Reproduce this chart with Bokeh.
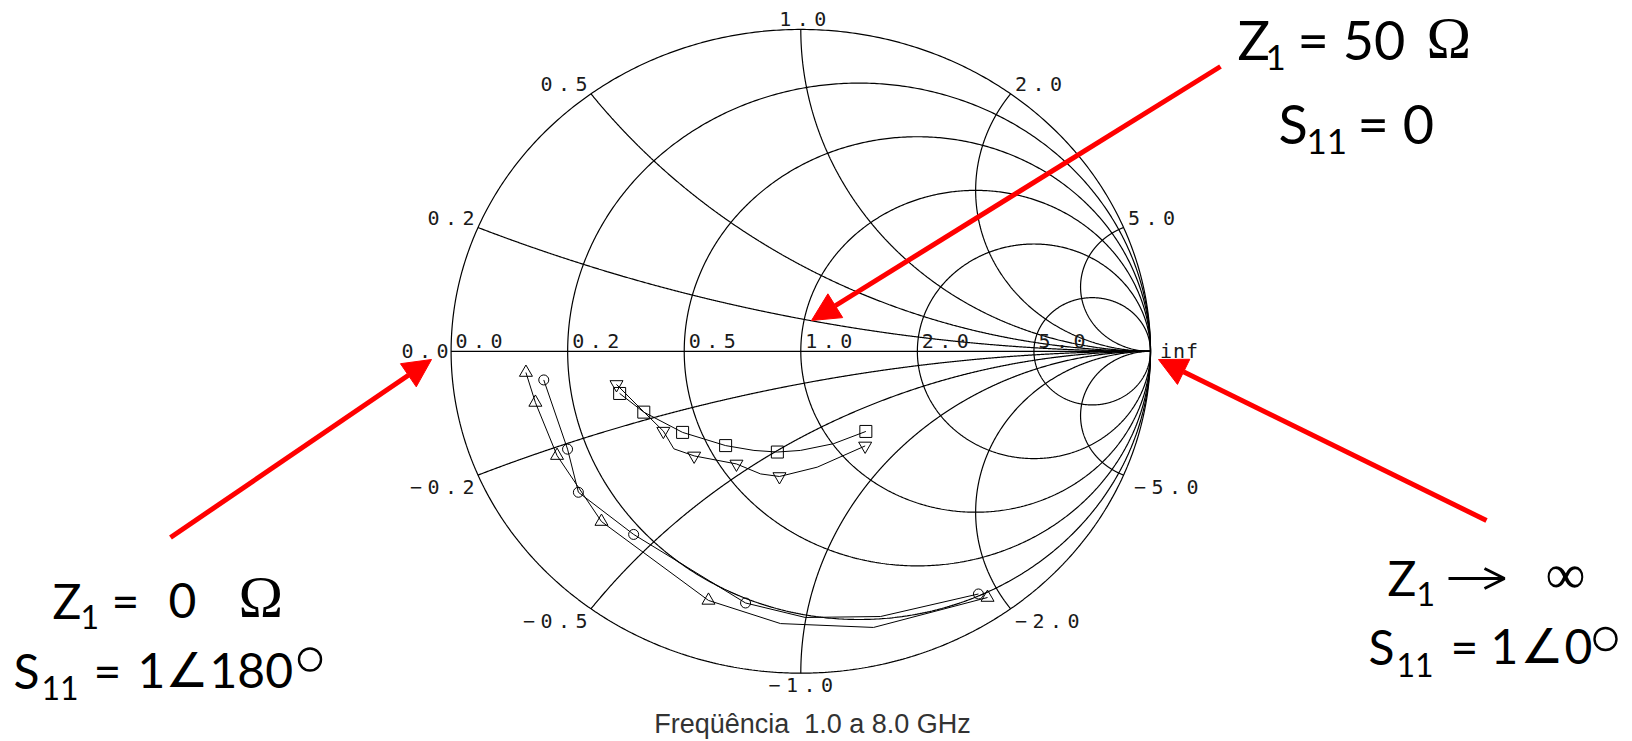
import numpy as np
from bokeh.plotting import figure
from bokeh.models import Range1d, Arrow, NormalHead, OpenHead
from bokeh.core.properties import value
from bokeh.embed import file_html
from bokeh.resources import INLINE

# ---------------- data ----------------
r_circles = [0.2, 0.5, 1.0, 2.0, 5.0]
x_arcs = [0.2, 0.5, 1.0, 2.0, 5.0, -0.2, -0.5, -1.0, -2.0, -5.0]
r_axis_labels = ["0.0", "0.2", "0.5", "1.0", "2.0", "5.0"]
r_axis_values = [0.0, 0.2, 0.5, 1.0, 2.0, 5.0]
x_labels = ["0.2", "0.5", "1.0", "2.0", "5.0", "-0.2", "-0.5", "-1.0", "-2.0", "-5.0"]
x_label_values = [0.2, 0.5, 1.0, 2.0, 5.0, -0.2, -0.5, -1.0, -2.0, -5.0]
title_text = "Freqüência \u00a01.0 a 8.0 GHz"

# series (reflection coefficient, real / imag) -- markers
tri_up_re = [-0.786, -0.759, -0.697, -0.570, -0.264, 0.534]
tri_up_im = [-0.066, -0.159, -0.324, -0.529, -0.774, -0.765]
circ_re = [-0.735, -0.667, -0.636, -0.478, -0.158, 0.508]
circ_im = [-0.089, -0.304, -0.438, -0.569, -0.782, -0.754]
sq_re = [-0.518, -0.449, -0.338, -0.215, -0.067, 0.186]
sq_im = [-0.131, -0.189, -0.252, -0.293, -0.313, -0.249]
tri_dn_re = [-0.527, -0.393, -0.305, -0.184, -0.061, 0.184]
tri_dn_im = [-0.103, -0.248, -0.325, -0.350, -0.389, -0.294]

# traces (all points of the curves)
tri_up_line_re = [-0.786, -0.759, -0.697, -0.570, -0.264, -0.058, 0.208, 0.534]
tri_up_line_im = [-0.066, -0.159, -0.324, -0.529, -0.774, -0.846, -0.858, -0.765]
circ_line_re = [-0.735, -0.667, -0.636, -0.478, -0.158, 0.013, 0.228, 0.508]
circ_line_im = [-0.089, -0.304, -0.438, -0.569, -0.782, -0.827, -0.824, -0.754]
sq_line_re = [-0.518, -0.449, -0.338, -0.215, -0.134, -0.067, -0.001, 0.094, 0.186]
sq_line_im = [-0.131, -0.189, -0.252, -0.293, -0.308, -0.313, -0.308, -0.287, -0.249]
tri_dn_line_re = [-0.527, -0.450, -0.393, -0.363, -0.305, -0.184, -0.115, -0.061, 0.047, 0.184]
tri_dn_line_im = [-0.103, -0.187, -0.248, -0.303, -0.325, -0.350, -0.381, -0.389, -0.360, -0.294]

# ---------------- geometry ----------------
W, H = 1632, 741
CX, CY, RX, RY = 800.3, 350.8, 349.7, 321.85  # picture pixels of chart centre / radii


def gx(px):
    return (px - CX) / RX


def gy(py):
    return (CY - py) / RY


def pxx(g):
    return CX + g * RX


def pxy(g):
    return CY - g * RY


def mid(baseline, size):
    # text is placed by the middle of its em box, ~0.3 em above the baseline
    return gy(baseline - 0.3 * size)


p = figure(width=W, height=H, output_backend="svg", toolbar_location=None,
           x_axis_type=None, y_axis_type=None, min_border=0,
           x_range=Range1d(gx(0), gx(W)), y_range=Range1d(gy(H), gy(0)))
p.outline_line_color = None
p.background_fill_color = "white"
p.border_fill_color = "white"

GRID = "black"

# outer circle + resistance circles
xs, ys = [], []
th = np.linspace(0, 2 * np.pi, 721)
for r in [0.0] + r_circles:
    c, rad = r / (1 + r), 1 / (1 + r)
    xs.append(list(c + rad * np.cos(th)))
    ys.append(list(rad * np.sin(th)))
# reactance arcs
t = np.linspace(0, np.pi / 2, 800)[:-1]
for xv in x_arcs:
    z = np.tan(t) + 1j * xv
    g = (z - 1) / (z + 1)
    xs.append(list(g.real) + [1.0])
    ys.append(list(g.imag) + [0.0])
p.multi_line(xs, ys, line_color=GRID, line_width=1.2)
p.line([-1, 1], [0, 0], line_color=GRID, line_width=1.2)

# ---------------- grid labels (wide, letter-spaced) ----------------
PITCH, GW, LFS = 17.5, 15.0, 20
lab_x, lab_y, lab_t = [], [], []


def spaced(txt, px, base, align="left", pitch=PITCH):
    txt = txt.replace("-", "\u2212")
    n = len(txt)
    width = GW + (n - 1) * pitch
    if align == "left":
        left = px
    elif align == "right":
        left = px - width
    else:
        left = px - width / 2
    for i, ch in enumerate(txt):
        lab_x.append(gx(left + GW / 2 + i * pitch))
        lab_y.append(mid(base, LFS))
        lab_t.append(ch)


axy = pxy(0)
for lab, rv in zip(r_axis_labels, r_axis_values):
    gr = (rv - 1) / (rv + 1)
    spaced(lab, pxx(gr) + 3, axy - 4, "left")
spaced("inf", pxx(1) + 8, axy + 6, "left", pitch=13)
spaced("0.0", pxx(-1) - 1, axy + 6, "right")

for lab, xv in zip(x_labels, x_label_values):
    gr, gi = (xv * xv - 1) / (xv * xv + 1), 2 * xv / (xv * xv + 1)
    ppx, ppy = pxx(gr), pxy(gi)
    if xv > 0:
        base = ppy - 4
        if gr < -0.1:
            spaced(lab, ppx - 2, base, "right")
        elif gr < 0.1:
            spaced(lab, ppx + 2, base, "center")
        else:
            spaced(lab, ppx + 3, base, "left")
    else:
        base = ppy + 18
        if gr < -0.1:
            spaced(lab, ppx - 2, base, "right")
        elif gr < 0.1:
            spaced(lab, ppx, base, "center")
        elif gr < 0.8:
            spaced(lab, ppx + 3, base, "left")
        else:
            spaced(lab, ppx + 9, base, "left")

p.text(lab_x, lab_y, text=lab_t, text_font=value("DejaVu Sans Mono"), text_font_size="%dpx" % LFS,
       text_align="center", text_baseline="middle", text_color="#1a1a1a")

# ---------------- data traces ----------------
for lx, ly in [(tri_up_line_re, tri_up_line_im), (circ_line_re, circ_line_im),
               (sq_line_re, sq_line_im), (tri_dn_line_re, tri_dn_line_im)]:
    p.line(lx, ly, line_color="black", line_width=1)

p.scatter(tri_up_re, tri_up_im, marker="triangle", size=13, fill_color=None, line_color="black", line_width=1)
p.scatter(circ_re, circ_im, marker="circle", size=10, fill_color=None, line_color="black", line_width=1)
p.scatter(sq_re, sq_im, marker="square", size=12, fill_color=None, line_color="black", line_width=1)
p.scatter(tri_dn_re, tri_dn_im, marker="inverted_triangle", size=13, fill_color=None, line_color="black", line_width=1)

# ---------------- caption under chart ----------------
p.text([gx(812)], [mid(732, 27)], text=[title_text], text_font=value("Liberation Sans"), text_font_size="27px",
       text_align="center", text_baseline="middle", text_color="#333333")

# ---------------- annotations ----------------
MT, ST = 54, 35   # top block
ML, SL = 48, 32   # lower blocks
segments = [
    # (text, left px, baseline px, font, size px)
    ("Z", 1237, 55, "Lato", MT), ("1", 1265, 67, "Lato", ST), ("= 50", 1297, 55, "Lato", MT),
    ("\u03a9", 1426, 55, "Liberation Serif", 60),
    ("S", 1278, 139, "Lato", MT), ("11", 1306, 151, "Lato", ST), ("= 0", 1357, 139, "Lato", MT),

    ("Z", 52, 614, "Lato", ML), ("1", 80, 626, "Lato", SL), ("=", 111, 614, "Lato", ML),
    ("0", 168, 614, "Lato", ML), ("\u03a9", 238, 614, "Liberation Serif", 60),
    ("S", 13, 684, "Lato", ML), ("11", 41, 697, "Lato", SL), ("=", 93, 684, "Lato", ML),
    ("1", 137, 684, "Lato", ML), ("\u2220", 165, 684, "DejaVu Sans", ML),
    ("180", 209, 684, "Lato", ML),

    ("Z", 1387, 591, "Lato", ML), ("1", 1416, 603, "Lato", SL),
    ("\u221e", 1545, 590, "Liberation Serif", 56),
    ("S", 1368, 660, "Lato", ML), ("11", 1396, 674, "Lato", SL), ("=", 1450, 660, "Lato", ML),
    ("1", 1490, 660, "Lato", ML), ("\u2220", 1520, 660, "DejaVu Sans", ML),
    ("0", 1564, 660, "Lato", ML),
]
for txt, lx, ly, font, size in segments:
    p.text([gx(lx)], [mid(ly, size)], text=[txt], text_font=value(font), text_font_size="%dpx" % size,
           text_align="left", text_baseline="middle", text_color="black")

# degree rings (large, as in the reference's symbol font)
p.scatter([gx(309.5), gx(1605)], [gy(659), gy(638.5)], marker="circle", size=22,
          fill_color=None, line_color="black", line_width=2.4)

# "tends to" arrow
p.add_layout(Arrow(x_start=gx(1448), y_start=gy(578), x_end=gx(1504), y_end=gy(578),
                   line_color="black", line_width=3,
                   end=OpenHead(size=20, line_color="black", line_width=3)))

# red arrows: (start px) -> (tip px)
arrows = [((1220, 66), (811, 320)), ((170, 537), (431, 359)), ((1486, 520), (1158, 359))]
for (sx, sy), (ex, ey) in arrows:
    p.add_layout(Arrow(x_start=gx(sx), y_start=gy(sy), x_end=gx(ex), y_end=gy(ey),
                       line_color="#ff0000", line_width=5,
                       end=NormalHead(size=28, fill_color="#ff0000", line_color="#ff0000", line_width=1)))

open("out.html", "w").write(file_html(p, INLINE))
